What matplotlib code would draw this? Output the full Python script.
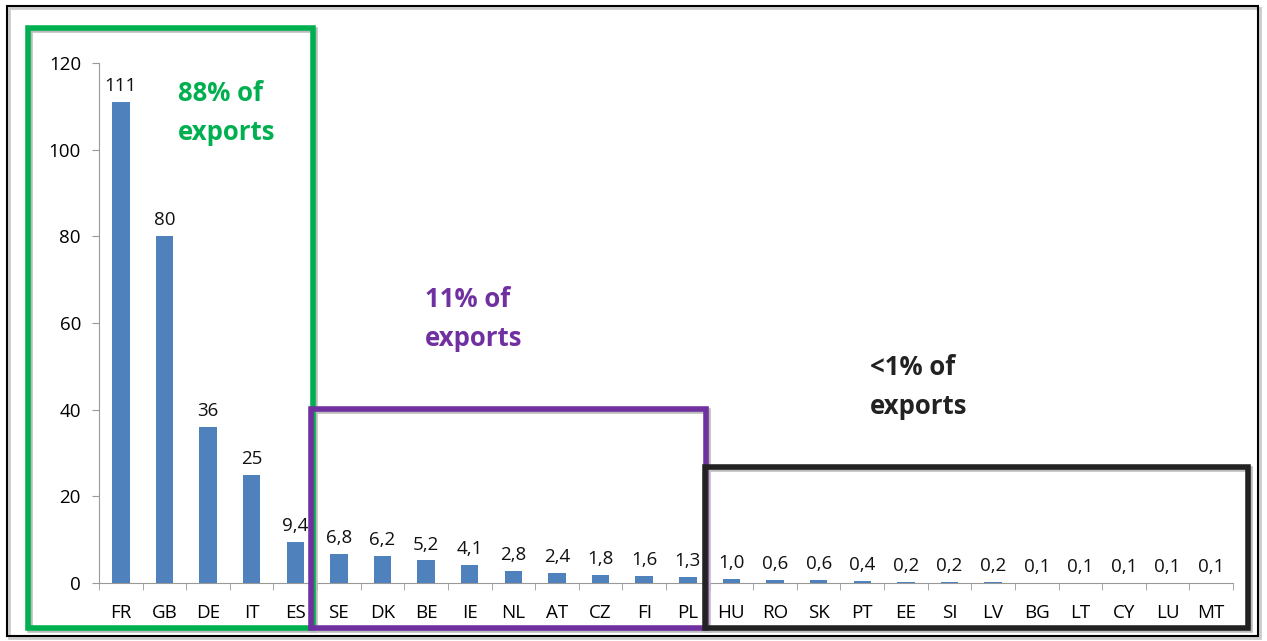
import matplotlib.pyplot as plt
import matplotlib as mpl
from matplotlib.patches import Rectangle

mpl.rcParams.update({
    "font.family": ["Open Sans", "DejaVu Sans"],
    "font.size": 12,
})

# ── Data ──
COUNTRIES = ["FR", "GB", "DE", "IT", "ES", "SE", "DK", "BE", "IE", "NL", "AT", "CZ", "FI",
             "PL", "HU", "RO", "SK", "PT", "EE", "SI", "LV", "BG", "LT", "CY", "LU", "MT"]
VALUES = [111, 80, 36, 25, 9.4, 6.8, 6.2, 5.2, 4.1, 2.8, 2.4, 1.8, 1.6,
          1.3, 1.0, 0.6, 0.6, 0.4, 0.2, 0.2, 0.2, 0.1, 0.1, 0.1, 0.1, 0.1]
Y_TICKS = [0, 20, 40, 60, 80, 100, 120]

GROUPS = [
    # (label, colour, box in figure pixels: x0, y0_top, x1, y1_bottom, label pos)
    ("88% of\nexports", "#00B050", (28, 28, 313, 628), (178, 80)),
    ("11% of\nexports", "#7030A0", (311, 409, 706, 628), (425, 286)),
    ("<1% of\nexports", "#222222", (705, 467, 1248, 628), (870, 354)),
]

W, H = 1267, 641
fig = plt.figure(figsize=(W / 100, H / 100), dpi=100)
ax = fig.add_axes([99 / W, 1 - 583 / H, (1233 - 99) / W, (583 - 63) / H])

x = range(len(COUNTRIES))
ax.bar(x, VALUES, width=0.4, color="#4F81BD", zorder=3)

def fmt(v):
    return f"{v:.0f}" if v >= 10 else f"{v:.1f}".replace(".", ",")

for xi, v in zip(x, VALUES):
    ax.annotate(fmt(v), (xi, v), xytext=(0, 5), textcoords="offset points",
                ha="center", va="bottom", fontsize=13.5, color="#111111")

ax.set_xlim(-0.5, len(COUNTRIES) - 0.5)
ax.set_ylim(0, 120)
ax.set_yticks(Y_TICKS)
ax.set_xticks(list(x))
ax.set_xticklabels(COUNTRIES, fontsize=13.5)
ax.set_xticks([i - 0.5 for i in range(len(COUNTRIES) + 1)], minor=True)
ax.tick_params(axis="x", which="major", length=0, pad=15)
ax.tick_params(axis="x", which="minor", length=5, color="#999999")
ax.tick_params(axis="y", length=5, color="#999999", labelsize=13.5, pad=8)
for s in ["top", "right"]:
    ax.spines[s].set_visible(False)
for s in ["left", "bottom"]:
    ax.spines[s].set_color("#999999")

# Outer frame
fig.patches.append(Rectangle((9 / W, 1 - 638 / H), 1251 / W, 630 / H,
                             transform=fig.transFigure, fill=False,
                             edgecolor="#cccccc", linewidth=2, zorder=0))
fig.patches.append(Rectangle((7 / W, 1 - 636 / H), 1251 / W, 630 / H,
                             transform=fig.transFigure, fill=False,
                             edgecolor="black", linewidth=1.5, zorder=1))

# Group boxes with labels
for label, color, (x0, y0, x1, y1), (tx, ty) in GROUPS:
    fig.patches.append(Rectangle((x0 / W + 2 / W, 1 - (y1 + 2) / H), (x1 - x0) / W, (y1 - y0) / H,
                                 transform=fig.transFigure, fill=False,
                                 edgecolor="#bbbbbb", linewidth=4, zorder=5))
    fig.patches.append(Rectangle((x0 / W, 1 - y1 / H), (x1 - x0) / W, (y1 - y0) / H,
                                 transform=fig.transFigure, fill=False,
                                 edgecolor=color, linewidth=4, zorder=6))
    fig.text(tx / W, 1 - ty / H, label, color=color, fontsize=18.5, fontweight="bold",
             ha="left", va="top", linespacing=1.55)

fig.savefig("out.png", dpi=100)
